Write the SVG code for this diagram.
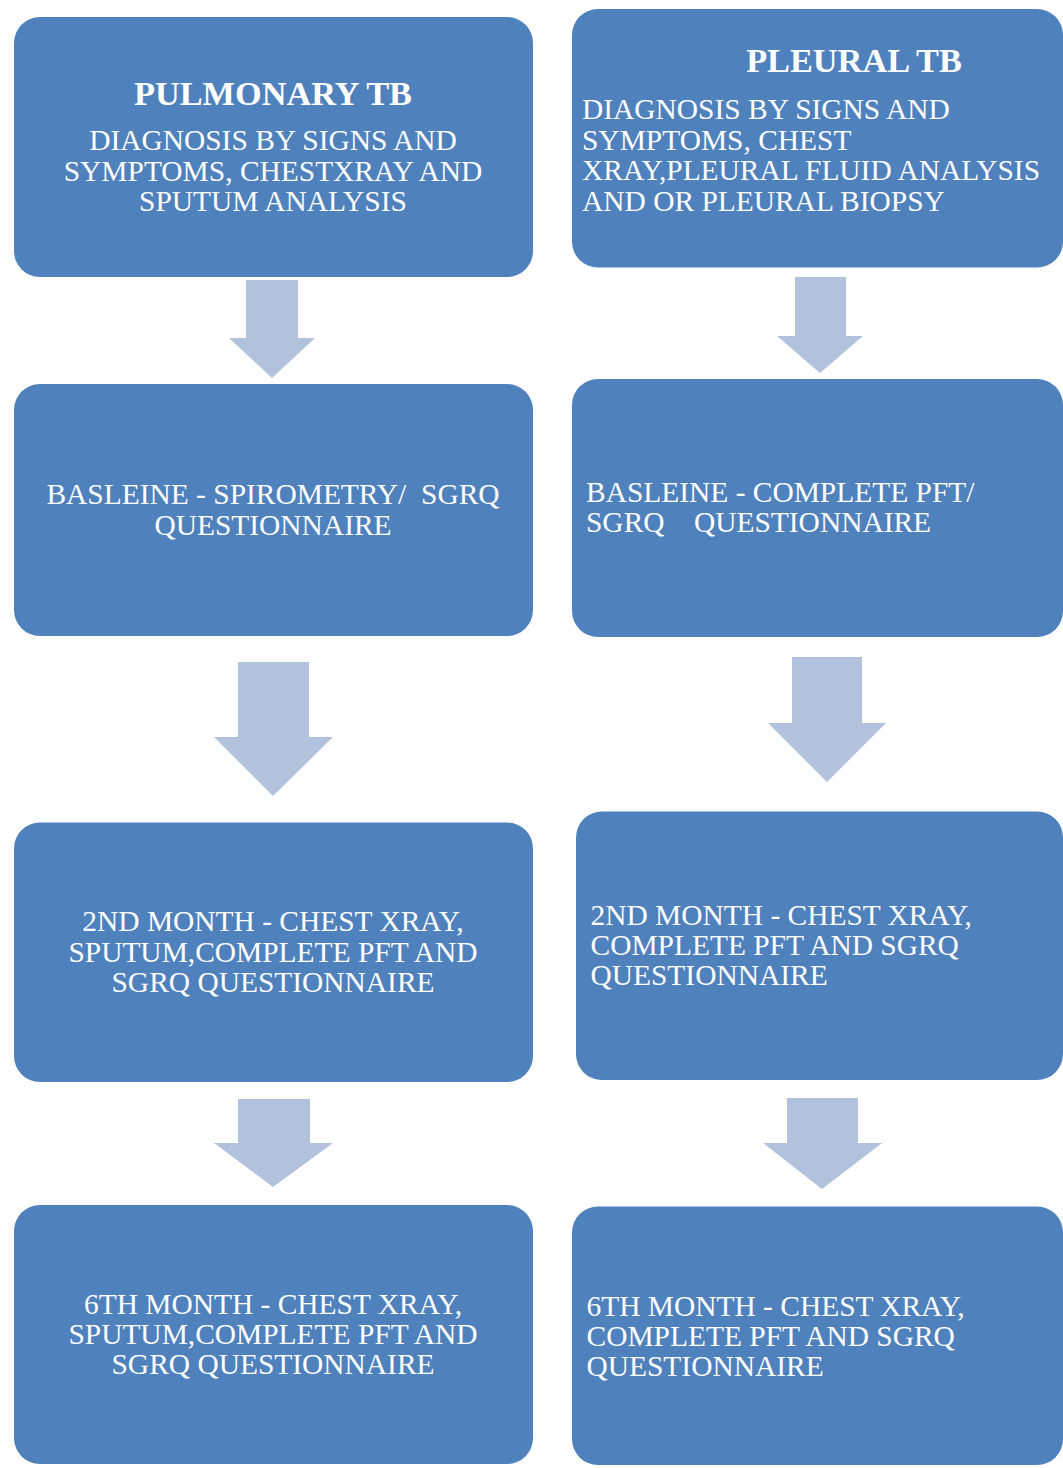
<svg xmlns="http://www.w3.org/2000/svg" width="1063" height="1468" viewBox="0 0 1063 1468">
  <style>
    .box { fill: #4F81BD; }
    .arrow { fill: #B2C2DD; }
    text { fill: #FFFFFF; font-family: "Liberation Serif", "Times New Roman", serif; font-size: 29.45px; white-space: pre; }
    .title { font-size: 34.3px; font-weight: bold; }
    .c { text-anchor: middle; }
  </style>

  <!-- Connectors: block arrows between stages -->
  <g id="connectors">
    <polygon class="arrow" points="246,280 298,280 298,338 315,338 272,378 229,338 246,338"/>
    <polygon class="arrow" points="238,662 309,662 309,737 333,737 273,796 214,737 238,737"/>
    <polygon class="arrow" points="238,1099 310,1099 310,1143 333,1143 273,1187 214,1143 238,1143"/>
    <polygon class="arrow" points="795,277 846,277 846,336 863,336 820,373 777,336 795,336"/>
    <polygon class="arrow" points="792,657 862,657 862,723 886,723 827,782 768,723 792,723"/>
    <polygon class="arrow" points="787,1098 858,1098 858,1143 882,1143 822,1189 763,1143 787,1143"/>
  </g>

  <!-- Pulmonary TB column -->
  <g id="pulmonary-diagnosis">
    <rect class="box" x="14" y="17" width="519" height="260" rx="26"/>
    <text class="title c" x="273" y="105">PULMONARY TB</text>
    <text class="c" x="273" y="150">DIAGNOSIS BY SIGNS AND</text>
    <text class="c" x="273" y="180.7">SYMPTOMS, CHESTXRAY AND</text>
    <text class="c" x="273" y="210.7">SPUTUM ANALYSIS</text>
  </g>
  <g id="pulmonary-baseline">
    <rect class="box" x="14" y="384" width="519" height="252" rx="26"/>
    <text class="c" x="273" y="504">BASLEINE - SPIROMETRY/  SGRQ</text>
    <text class="c" x="273" y="534.5">QUESTIONNAIRE</text>
  </g>
  <g id="pulmonary-month2">
    <rect class="box" x="14" y="822.5" width="519" height="259.5" rx="26"/>
    <text class="c" x="273" y="930.7">2ND MONTH - CHEST XRAY,</text>
    <text class="c" x="273" y="961.5">SPUTUM,COMPLETE PFT AND</text>
    <text class="c" x="273" y="992.3">SGRQ QUESTIONNAIRE</text>
  </g>
  <g id="pulmonary-month6">
    <rect class="box" x="14" y="1205" width="519" height="259" rx="26"/>
    <text class="c" x="273" y="1314.3">6TH MONTH - CHEST XRAY,</text>
    <text class="c" x="273" y="1344.3">SPUTUM,COMPLETE PFT AND</text>
    <text class="c" x="273" y="1374.3">SGRQ QUESTIONNAIRE</text>
  </g>

  <!-- Pleural TB column -->
  <g id="pleural-diagnosis">
    <rect class="box" x="572" y="9" width="491" height="258.5" rx="26"/>
    <text class="title c" x="854" y="71.7">PLEURAL TB</text>
    <text x="582" y="119.3">DIAGNOSIS BY SIGNS AND</text>
    <text x="582" y="149.7">SYMPTOMS, CHEST</text>
    <text x="582" y="180.3">XRAY,PLEURAL FLUID ANALYSIS</text>
    <text x="582" y="210.7">AND OR PLEURAL BIOPSY</text>
  </g>
  <g id="pleural-baseline">
    <rect class="box" x="572" y="379" width="491" height="258" rx="26"/>
    <text x="586" y="501.7">BASLEINE - COMPLETE PFT/</text>
    <text x="586" y="531.7">SGRQ    QUESTIONNAIRE</text>
  </g>
  <g id="pleural-month2">
    <rect class="box" x="576" y="811.5" width="487" height="268.5" rx="26"/>
    <text x="590.5" y="925">2ND MONTH - CHEST XRAY,</text>
    <text x="590.5" y="955">COMPLETE PFT AND SGRQ</text>
    <text x="590.5" y="985.3">QUESTIONNAIRE</text>
  </g>
  <g id="pleural-month6">
    <rect class="box" x="572" y="1206.5" width="491" height="258.5" rx="26"/>
    <text x="586.5" y="1315.7">6TH MONTH - CHEST XRAY,</text>
    <text x="586.5" y="1345.7">COMPLETE PFT AND SGRQ</text>
    <text x="586.5" y="1375.7">QUESTIONNAIRE</text>
  </g>
</svg>
